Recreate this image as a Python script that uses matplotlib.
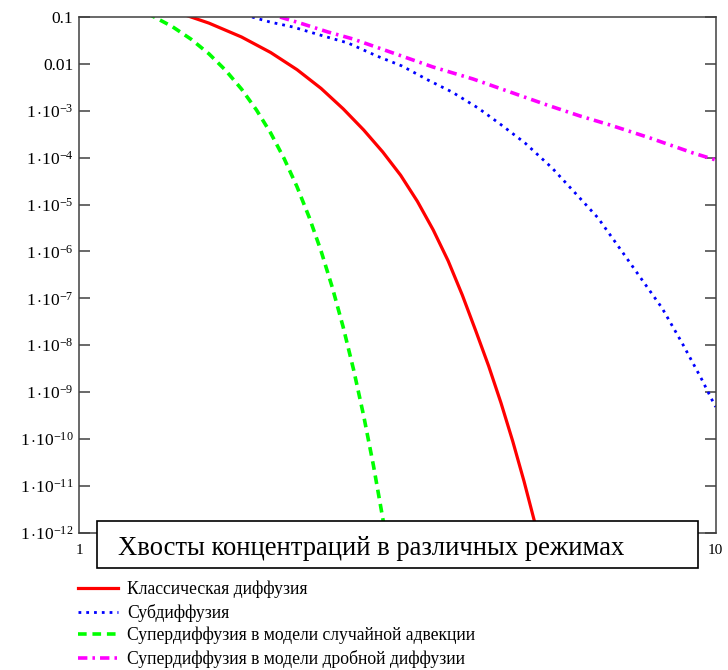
import matplotlib
matplotlib.use("Agg")
import matplotlib.pyplot as plt
from matplotlib.patches import Rectangle

plt.rcParams["font.family"] = ["Liberation Serif", "DejaVu Serif"]
plt.rcParams["mathtext.fontset"] = "custom"
plt.rcParams["mathtext.rm"] = "Liberation Serif"
plt.rcParams["mathtext.it"] = "Liberation Serif:italic"

# values (x: distance, y: concentration)
red_x = [1.45, 1.6, 1.8, 2.0, 2.2, 2.4, 2.6, 2.8, 3.0, 3.2, 3.4, 3.6, 3.8, 4.0,
         4.2, 4.4, 4.6, 4.8, 5.0, 5.2, 5.35]
red_y = [0.117, 7.41e-2, 3.75e-2, 1.75e-2, 7.54e-3, 3.00e-3, 1.10e-3, 3.89e-4,
         1.32e-4, 4.22e-5, 1.17e-5, 2.88e-6, 6.3e-7, 1.17e-7, 2.01e-8, 3.58e-9,
         5.89e-10, 8.93e-11, 1.25e-11, 1.62e-12, 3.3e-13]

blue_x = [1.870, 1.995, 2.168, 2.391, 2.646, 2.938, 3.216, 3.532, 3.853, 4.233,
          4.584, 5.017, 5.534, 6.056, 6.534, 7.152, 7.604, 8.234, 8.854, 9.517,
          9.867, 10.0]
blue_y = [0.1, 7.82e-2, 6.12e-2, 4.13e-2, 2.79e-2, 1.47e-2, 9.02e-3, 4.54e-3,
          2.52e-3, 1.15e-3, 5.24e-4, 2.06e-4, 6.03e-5, 1.60e-5, 5.18e-6, 9.29e-7,
          2.86e-7, 6.24e-8, 1.12e-8, 1.82e-9, 6.83e-10, 4.83e-10]

green_x = [1.28, 1.4, 1.5, 1.6, 1.7, 1.8, 1.9, 2.0, 2.1, 2.2, 2.3, 2.4, 2.5, 2.6,
           2.7, 2.8, 2.9, 3.0, 3.06]
green_y = [0.120, 6.30e-2, 3.36e-2, 1.64e-2, 7.26e-3, 2.90e-3, 1.04e-3, 3.36e-4,
           9.55e-5, 2.40e-5, 5.28e-6, 1.02e-6, 1.69e-7, 2.42e-8, 2.97e-9, 3.10e-10,
           2.74e-11, 2.03e-12, 3.9e-13]

mag_x = [2.069, 2.248, 2.461, 2.694, 3.113, 3.597, 4.157, 4.753, 5.433, 6.122,
         6.823, 7.885, 9.211, 10.0]
mag_y = [0.1, 7.10e-2, 4.79e-2, 3.40e-2, 1.71e-2, 8.59e-3, 4.77e-3, 2.52e-3,
         1.33e-3, 7.74e-4, 4.98e-4, 2.63e-4, 1.26e-4, 8.93e-5]

labels = ["Классическая диффузия", "Субдиффузия",
          "Супердиффузия в модели случайной адвекции",
          "Супердиффузия в модели дробной диффузии"]
title = "Хвосты концентраций в различных режимах"

ytick_vals = [1e-12, 1e-11, 1e-10, 1e-9, 1e-8, 1e-7, 1e-6, 1e-5, 1e-4, 1e-3, 0.01, 0.1]
ytick_text = [r"$\mathrm{1\,{\cdot}10^{-%d}}$" % k for k in range(12, 2, -1)] + ["0.01", "0.1"]

fig = plt.figure(figsize=(7.28, 6.70), dpi=100)
ax = fig.add_axes([0.1085, 0.2049, 0.8746, 0.7697])

ax.plot(red_x, red_y, color="#ff0000", lw=2.3, label=labels[0])
ax.plot(blue_x, blue_y, color="#0000ff", lw=2.0, linestyle=(0, (1, 1.8)), label=labels[1])
ax.plot(green_x, green_y, color="#00ff00", lw=2.6, linestyle=(0, (2.4, 1.6)), label=labels[2])
ax.plot(mag_x, mag_y, color="#ff00ff", lw=2.6, linestyle=(0, (2.6, 1.4, 0.7, 1.4)), label=labels[3])

ax.set_xscale("log")
ax.set_yscale("log")
ax.set_xlim(1, 10)
ax.set_ylim(1e-12, 0.1)

ax.set_yticks(ytick_vals)
ax.set_yticklabels(ytick_text)
ax.yaxis.set_minor_locator(matplotlib.ticker.NullLocator())
ax.xaxis.set_minor_locator(matplotlib.ticker.NullLocator())
ax.set_xticks([1, 10])
ax.set_xticklabels(["1", "10"])
ax.tick_params(axis="y", which="major", direction="in", length=8, width=1.1,
               color="#404040", right=True, labelsize=12.5, pad=4)
ax.tick_params(axis="x", which="major", length=0, labelsize=11, pad=8)
for s in ax.spines.values():
    s.set_color("#404040")
    s.set_linewidth(1.1)

# title box over the bottom of the axes
box = Rectangle((0.1332, 0.1522), 0.8255, 0.0701, transform=fig.transFigure,
                facecolor="white", edgecolor="black", lw=1.2, zorder=5)
fig.add_artist(box)
fig.text(0.162, 0.181, title, fontsize=19.2, va="center", ha="left", zorder=6)

leg = fig.legend(loc="upper left", bbox_to_anchor=(0.107, 0.133), frameon=False,
                 fontsize=12.7, handlelength=2.3, handletextpad=0.5,
                 labelspacing=0.3, borderaxespad=0, borderpad=0)

fig.savefig("out.png", dpi=100)
